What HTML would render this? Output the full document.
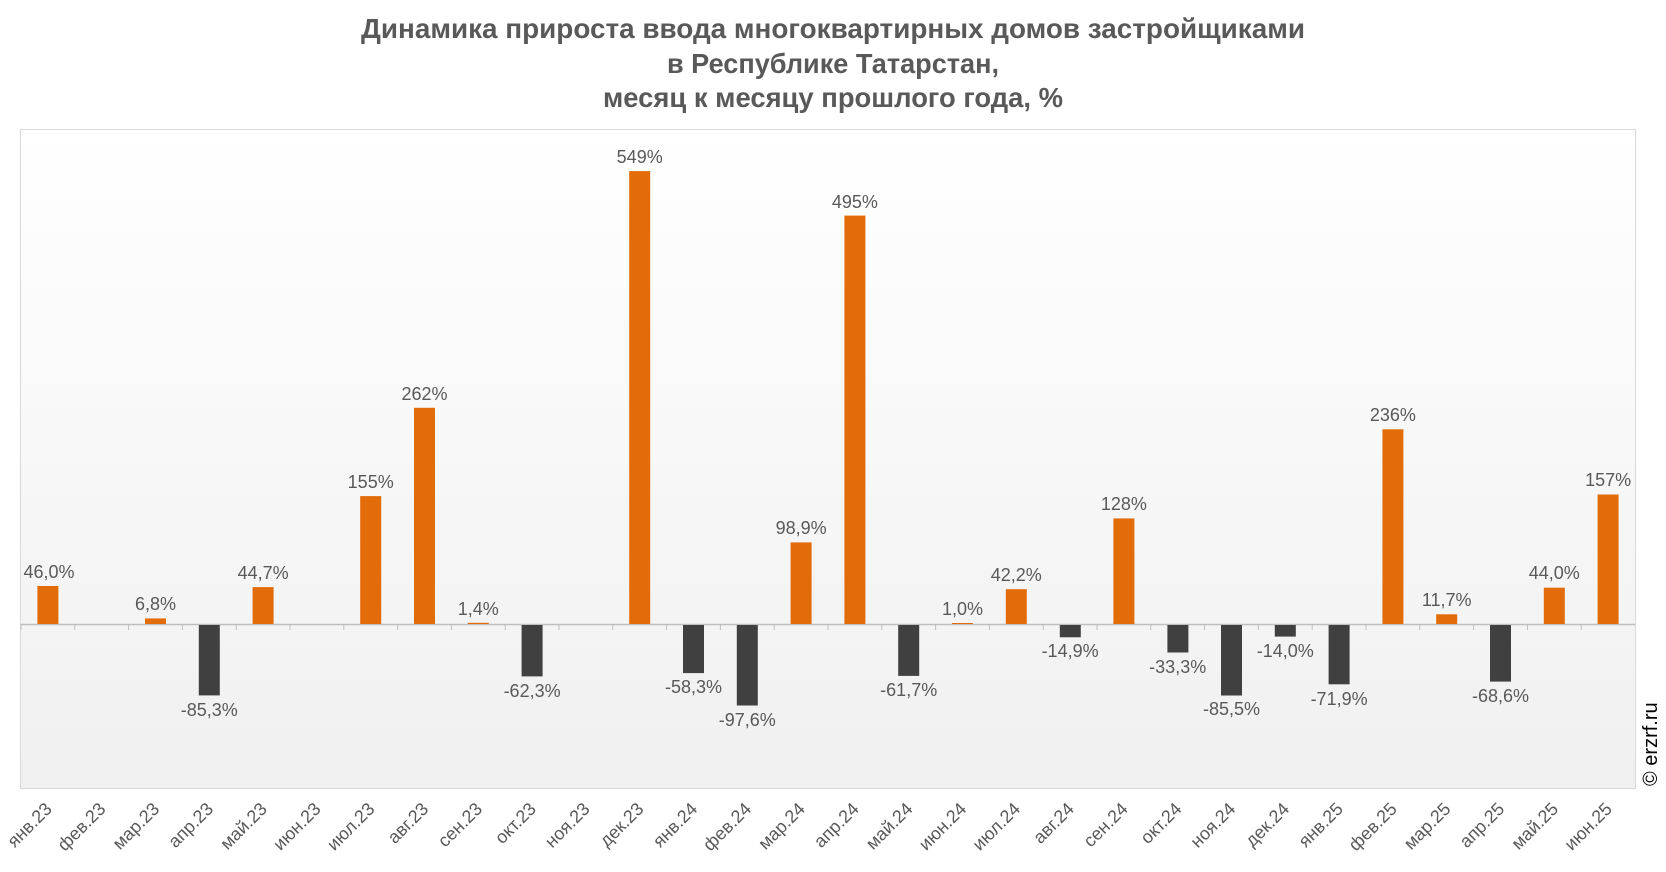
<!DOCTYPE html>
<html><head><meta charset="utf-8"><style>
body{margin:0;background:#fff;}
svg{display:block;}
.t{font-family:"Liberation Sans Narrow","Liberation Sans",sans-serif;font-weight:bold;font-size:28px;fill:#595959;}
.v{font-family:"Liberation Sans",sans-serif;font-size:18px;fill:#595959;text-anchor:middle;}
.c{font-family:"Liberation Sans",sans-serif;font-size:18px;fill:#595959;text-anchor:end;}
</style></head><body>
<svg width="1666" height="872" xmlns="http://www.w3.org/2000/svg">
<defs><linearGradient id="g" x1="0" y1="0" x2="0" y2="1"><stop offset="0" stop-color="#ffffff"/><stop offset="1" stop-color="#f0f0f0"/></linearGradient></defs>
<text class="t" x="833" y="38" text-anchor="middle" textLength="944" lengthAdjust="spacingAndGlyphs">Динамика прироста ввода многоквартирных домов застройщиками</text>
<text class="t" x="833" y="73" text-anchor="middle" textLength="332" lengthAdjust="spacingAndGlyphs">в Республике Татарстан,</text>
<text class="t" x="833" y="107" text-anchor="middle" textLength="460" lengthAdjust="spacingAndGlyphs">месяц к месяцу прошлого года, %</text>
<rect x="20.5" y="129.5" width="1615" height="659" fill="url(#g)" stroke="#d9d9d9"/>
<line x1="21" y1="624.5" x2="1635" y2="624.5" stroke="#bfbfbf" stroke-width="1.5"/>
<g stroke="#bfbfbf"><line x1="21" y1="624" x2="21" y2="630"/><line x1="74.8" y1="624" x2="74.8" y2="630"/><line x1="128.6" y1="624" x2="128.6" y2="630"/><line x1="182.4" y1="624" x2="182.4" y2="630"/><line x1="236.2" y1="624" x2="236.2" y2="630"/><line x1="290" y1="624" x2="290" y2="630"/><line x1="343.8" y1="624" x2="343.8" y2="630"/><line x1="397.6" y1="624" x2="397.6" y2="630"/><line x1="451.4" y1="624" x2="451.4" y2="630"/><line x1="505.2" y1="624" x2="505.2" y2="630"/><line x1="559" y1="624" x2="559" y2="630"/><line x1="612.8" y1="624" x2="612.8" y2="630"/><line x1="666.6" y1="624" x2="666.6" y2="630"/><line x1="720.4" y1="624" x2="720.4" y2="630"/><line x1="774.2" y1="624" x2="774.2" y2="630"/><line x1="828" y1="624" x2="828" y2="630"/><line x1="881.8" y1="624" x2="881.8" y2="630"/><line x1="935.6" y1="624" x2="935.6" y2="630"/><line x1="989.4" y1="624" x2="989.4" y2="630"/><line x1="1043.2" y1="624" x2="1043.2" y2="630"/><line x1="1097" y1="624" x2="1097" y2="630"/><line x1="1150.8" y1="624" x2="1150.8" y2="630"/><line x1="1204.6" y1="624" x2="1204.6" y2="630"/><line x1="1258.4" y1="624" x2="1258.4" y2="630"/><line x1="1312.2" y1="624" x2="1312.2" y2="630"/><line x1="1366" y1="624" x2="1366" y2="630"/><line x1="1419.8" y1="624" x2="1419.8" y2="630"/><line x1="1473.6" y1="624" x2="1473.6" y2="630"/><line x1="1527.4" y1="624" x2="1527.4" y2="630"/><line x1="1581.2" y1="624" x2="1581.2" y2="630"/></g>
<g fill="#e36c0a">
<rect x="37.4" y="586" width="21" height="38"/>
<rect x="145" y="618.4" width="21" height="5.6"/>
<rect x="252.6" y="587.1" width="21" height="36.9"/>
<rect x="360.2" y="496.1" width="21" height="127.9"/>
<rect x="414" y="407.8" width="21" height="216.2"/>
<rect x="467.8" y="622.8" width="21" height="1.2"/>
<rect x="629.2" y="171.1" width="21" height="452.9"/>
<rect x="790.6" y="542.4" width="21" height="81.6"/>
<rect x="844.4" y="215.6" width="21" height="408.4"/>
<rect x="952" y="623" width="21" height="1"/>
<rect x="1005.8" y="589.2" width="21" height="34.8"/>
<rect x="1113.4" y="518.4" width="21" height="105.6"/>
<rect x="1382.4" y="429.3" width="21" height="194.7"/>
<rect x="1436.2" y="614.3" width="21" height="9.7"/>
<rect x="1543.8" y="587.7" width="21" height="36.3"/>
<rect x="1597.6" y="494.5" width="21" height="129.5"/>
</g>
<g fill="#404040">
<rect x="198.8" y="625" width="21" height="70.4"/>
<rect x="521.6" y="625" width="21" height="51.4"/>
<rect x="683" y="625" width="21" height="48.1"/>
<rect x="736.8" y="625" width="21" height="80.5"/>
<rect x="898.2" y="625" width="21" height="50.9"/>
<rect x="1059.8" y="625" width="21" height="12.3"/>
<rect x="1167.4" y="625" width="21" height="27.5"/>
<rect x="1221" y="625" width="21" height="70.5"/>
<rect x="1274.8" y="625" width="21" height="11.6"/>
<rect x="1328.6" y="625" width="21" height="59.3"/>
<rect x="1490" y="625" width="21" height="56.6"/>
</g>
<g class="v">
<text x="49" y="578">46,0%</text>
<text x="155.5" y="610">6,8%</text>
<text x="209.3" y="716">-85,3%</text>
<text x="263.1" y="579">44,7%</text>
<text x="370.7" y="488">155%</text>
<text x="424.5" y="400">262%</text>
<text x="478.3" y="615">1,4%</text>
<text x="532.1" y="697">-62,3%</text>
<text x="639.7" y="163">549%</text>
<text x="693.5" y="693">-58,3%</text>
<text x="747.3" y="726">-97,6%</text>
<text x="801.1" y="534">98,9%</text>
<text x="854.9" y="208">495%</text>
<text x="908.7" y="696">-61,7%</text>
<text x="962.5" y="615">1,0%</text>
<text x="1016.3" y="581">42,2%</text>
<text x="1070.1" y="657">-14,9%</text>
<text x="1123.9" y="510">128%</text>
<text x="1177.7" y="673">-33,3%</text>
<text x="1231.5" y="715">-85,5%</text>
<text x="1285.3" y="657">-14,0%</text>
<text x="1339.1" y="705">-71,9%</text>
<text x="1392.9" y="421">236%</text>
<text x="1446.7" y="606">11,7%</text>
<text x="1500.5" y="702">-68,6%</text>
<text x="1554.3" y="579">44,0%</text>
<text x="1608.1" y="486">157%</text>
</g>
<g class="c">
<text transform="translate(53,810) rotate(-45)">янв.23</text>
<text transform="translate(106.7,810) rotate(-45)">фев.23</text>
<text transform="translate(160.5,810) rotate(-45)">мар.23</text>
<text transform="translate(214.3,810) rotate(-45)">апр.23</text>
<text transform="translate(268.1,810) rotate(-45)">май.23</text>
<text transform="translate(321.9,810) rotate(-45)">июн.23</text>
<text transform="translate(375.7,810) rotate(-45)">июл.23</text>
<text transform="translate(429.5,810) rotate(-45)">авг.23</text>
<text transform="translate(483.3,810) rotate(-45)">сен.23</text>
<text transform="translate(537.1,810) rotate(-45)">окт.23</text>
<text transform="translate(590.9,810) rotate(-45)">ноя.23</text>
<text transform="translate(644.7,810) rotate(-45)">дек.23</text>
<text transform="translate(698.5,810) rotate(-45)">янв.24</text>
<text transform="translate(752.3,810) rotate(-45)">фев.24</text>
<text transform="translate(806.1,810) rotate(-45)">мар.24</text>
<text transform="translate(859.9,810) rotate(-45)">апр.24</text>
<text transform="translate(913.7,810) rotate(-45)">май.24</text>
<text transform="translate(967.5,810) rotate(-45)">июн.24</text>
<text transform="translate(1021.3,810) rotate(-45)">июл.24</text>
<text transform="translate(1075.1,810) rotate(-45)">авг.24</text>
<text transform="translate(1128.9,810) rotate(-45)">сен.24</text>
<text transform="translate(1182.7,810) rotate(-45)">окт.24</text>
<text transform="translate(1236.5,810) rotate(-45)">ноя.24</text>
<text transform="translate(1290.3,810) rotate(-45)">дек.24</text>
<text transform="translate(1344.1,810) rotate(-45)">янв.25</text>
<text transform="translate(1397.9,810) rotate(-45)">фев.25</text>
<text transform="translate(1451.7,810) rotate(-45)">мар.25</text>
<text transform="translate(1505.5,810) rotate(-45)">апр.25</text>
<text transform="translate(1559.3,810) rotate(-45)">май.25</text>
<text transform="translate(1613.1,810) rotate(-45)">июн.25</text>
</g>
<text transform="translate(1657,786) rotate(-90)" style="font-family:'Liberation Sans',sans-serif;font-size:20px;fill:#000">© erzrf.ru</text>
</svg>
</body></html>
